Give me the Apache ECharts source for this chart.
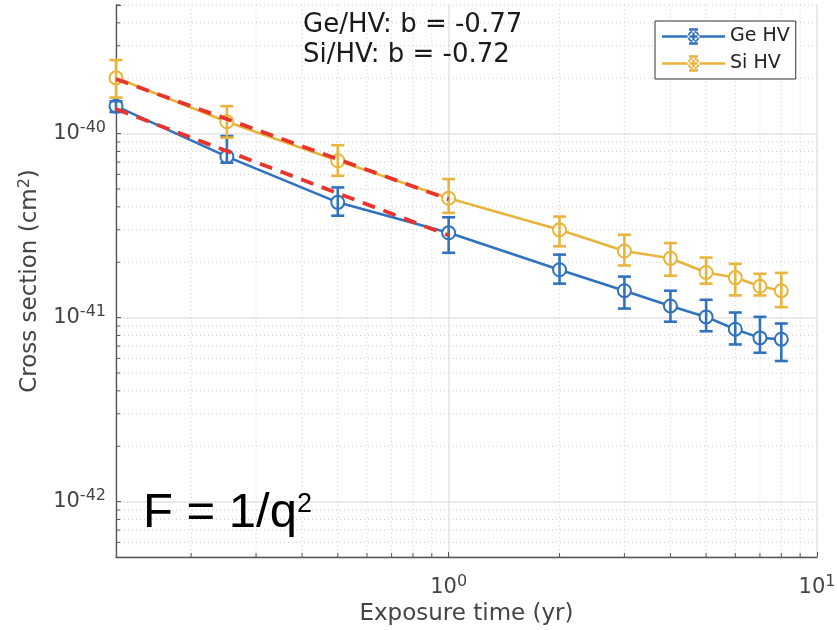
<!DOCTYPE html>
<html><head><meta charset="utf-8">
<script src="https://cdn.jsdelivr.net/npm/echarts@6/dist/echarts.min.js"></script>
<style>html,body{margin:0;padding:0;background:#fff}#c{width:837px;height:630px}</style>
</head><body><div id="c"></div>
<script>
// ---- data (cross sections in cm^2) ----
const exposure = [0.125, 0.25, 0.5, 1, 2, 3, 4, 5, 6, 7, 8];
const geHV     = [1.41e-40, 7.5e-41, 4.23e-41, 2.89e-41, 1.82e-41, 1.40e-41, 1.157e-41, 1.009e-41, 8.65e-42, 7.76e-42, 7.63e-42];
const geLow    = [1.31e-40, 6.95e-41, 3.58e-41, 2.25e-41, 1.53e-41, 1.12e-41, 9.5e-42, 8.43e-42, 7.15e-42, 6.44e-42, 5.81e-42];
const geHigh   = [1.50e-40, 9.7e-41, 5.1e-41, 3.51e-41, 2.2e-41, 1.67e-41, 1.40e-41, 1.25e-41, 1.066e-41, 1.01e-41, 9.29e-42];
const siHV     = [2.01e-40, 1.16e-40, 7.12e-41, 4.45e-41, 3.0e-41, 2.30e-41, 2.10e-41, 1.76e-41, 1.65e-41, 1.48e-41, 1.40e-41];
const siLow    = [1.57e-40, 9.5e-41, 5.9e-41, 3.71e-41, 2.44e-41, 1.92e-41, 1.69e-41, 1.53e-41, 1.32e-41, 1.32e-41, 1.14e-41];
const siHigh   = [2.51e-40, 1.41e-40, 8.65e-41, 5.66e-41, 3.54e-41, 2.82e-41, 2.54e-41, 2.12e-41, 1.96e-41, 1.73e-41, 1.75e-41];
const fitX     = [0.125, 1];
const geFit    = [1.36e-40, 2.8e-41];
const siFit    = [1.98e-40, 4.4e-41];
const yRange   = [5e-43, 5e-40];
const xMinorTicks = [0.2, 0.3, 0.4, 0.5, 0.6, 0.7, 0.8, 0.9, 2, 3, 4, 5, 6, 7, 8, 9];
const yMinorTicks = [6e-43, 7e-43, 8e-43, 9e-43,
  2e-42, 3e-42, 4e-42, 5e-42, 6e-42, 7e-42, 8e-42, 9e-42,
  2e-41, 3e-41, 4e-41, 5e-41, 6e-41, 7e-41, 8e-41, 9e-41,
  2e-40, 3e-40, 4e-40, 5e-40];
const annotGe = 'Ge/HV: b = -0.77';
const annotSi = 'Si/HV: b = -0.72';
const seriesNames = ['Ge HV', 'Si HV'];

// plotting unit (ECharts' log scale loses precision on values ~1e-40)
const UNIT_EXP = -42, UNIT = 1e-42;
const u = v => v / UNIT;

const BLUE = '#3172bf', ORANGE = '#e9b43c', RED = '#e8342c';
const FONT = 'DejaVu Sans';
const LEGEND_ICON = 'path://M0 8.8H63V11.2H0Z M30.3 3H32.7V17H30.3Z M27 1.8H36V4.2H27Z M27 15.8H36V18.2H27Z ' +
  'M25.5 10A6 6 0 1 0 37.5 10A6 6 0 1 0 25.5 10Z M27.5 10A4 4 0 1 1 35.5 10A4 4 0 1 1 27.5 10Z';

const zip2 = (xs, ys) => xs.map((x, i) => [x, u(ys[i])]);
const zip3 = (xs, lo, hi) => xs.map((x, i) => [x, u(lo[i]), u(hi[i])]);

function errRender(color) {
  return function (params, api) {
    const x = api.value(0);
    const pLo = api.coord([x, api.value(1)]);
    const pHi = api.coord([x, api.value(2)]);
    const w = 6.5;
    const st = { stroke: color, lineWidth: 2.6 };
    return { type: 'group', children: [
      { type: 'line', shape: { x1: pLo[0], y1: pLo[1], x2: pHi[0], y2: pHi[1] }, style: st },
      { type: 'line', shape: { x1: pLo[0] - w, y1: pLo[1], x2: pLo[0] + w, y2: pLo[1] }, style: st },
      { type: 'line', shape: { x1: pHi[0] - w, y1: pHi[1], x2: pHi[0] + w, y2: pHi[1] }, style: st }
    ]};
  };
}
function minorXRender(params, api) {
  const cs = params.coordSys;
  const x = api.coord([api.value(0), api.value(1)])[0];
  const b = cs.y + cs.height;
  return { type: 'group', children: [
    { type: 'line', shape: { x1: x, y1: cs.y, x2: x, y2: b }, style: { stroke: '#cfcfcf', lineWidth: 1, lineDash: [1, 3] } },
    { type: 'line', shape: { x1: x, y1: b, x2: x, y2: b - 4 }, style: { stroke: '#555', lineWidth: 1 } }
  ]};
}
function minorYRender(params, api) {
  const cs = params.coordSys;
  const y = api.coord([api.value(0), api.value(1)])[1];
  return { type: 'group', children: [
    { type: 'line', shape: { x1: cs.x, y1: y, x2: cs.x + cs.width, y2: y }, style: { stroke: '#cfcfcf', lineWidth: 1, lineDash: [1, 3] } },
    { type: 'line', shape: { x1: cs.x, y1: y, x2: cs.x + 4, y2: y }, style: { stroke: '#555', lineWidth: 1 } }
  ]};
}
function powLabel(offset) {
  return function (v) {
    const l = Math.log10(v);
    const e = Math.round(l);
    if (Math.abs(l - e) > 1e-6) return '';
    return '{b|10}{s|' + (e + offset) + '}';
  };
}
const labelRich = {
  b: { fontSize: 21, color: '#444', fontFamily: FONT },
  s: { fontSize: 16, color: '#444', fontFamily: FONT, padding: [0, 0, 11, 0] }
};

const chart = echarts.init(document.getElementById('c'), null, { renderer: 'canvas' });
chart.setOption({
  animation: false,
  backgroundColor: '#fff',
  grid: { left: 116, right: 20, top: 5, bottom: 73, containLabel: false, outerBoundsMode: 'none' },
  xAxis: {
    type: 'log', logBase: 10, min: 0.125, max: 10,
    name: 'Exposure time (yr)', nameLocation: 'middle', nameGap: 46,
    nameTextStyle: { fontSize: 23, color: '#444', fontFamily: FONT },
    axisLine: { show: true, lineStyle: { color: '#555', width: 1.3 } },
    axisTick: { show: true, inside: true, length: 5, lineStyle: { color: '#555' } },
    axisLabel: { formatter: powLabel(0), rich: labelRich, fontSize: 21, margin: 17, hideOverlap: false, showMinLabel: true, showMaxLabel: true },
    splitLine: { show: true, lineStyle: { color: '#e3e3e3', width: 1.5 } },
    minorTick: { show: false }, minorSplitLine: { show: false }
  },
  yAxis: {
    type: 'log', logBase: 10, min: u(yRange[0]), max: u(yRange[1]),
    name: '{n|Cross section (cm}{s|2}{n|)}', nameLocation: 'middle', nameGap: 72, nameRotate: 90,
    nameTextStyle: { rich: {
      n: { fontSize: 23, color: '#444', fontFamily: FONT },
      s: { fontSize: 16, color: '#444', fontFamily: FONT, padding: [0, 0, 11, 0] }
    } },
    axisLine: { show: true, lineStyle: { color: '#555', width: 1.3 } },
    axisTick: { show: true, inside: true, length: 5, lineStyle: { color: '#555' } },
    axisLabel: { formatter: powLabel(UNIT_EXP), rich: labelRich, fontSize: 21, margin: 10, hideOverlap: false },
    splitLine: { show: true, showMaxLine: false, lineStyle: { color: '#e3e3e3', width: 1.5 } },
    minorTick: { show: false }, minorSplitLine: { show: false }
  },
  legend: {
    data: seriesNames.map(n => ({ name: n, icon: LEGEND_ICON })),
    orient: 'vertical', left: 655, top: 21,
    backgroundColor: '#fff', borderColor: '#333', borderWidth: 1, borderRadius: 0,
    padding: [6, 6, 6, 7], itemWidth: 63, itemHeight: 18, itemGap: 8,
    itemStyle: { borderWidth: 0 },
    textStyle: { fontSize: 19, color: '#222', fontFamily: FONT }
  },
  graphic: [
    { type: 'text', left: 303, top: 12, z: 10, style: { text: annotGe, fontSize: 26, fill: '#1a1a1a', fontFamily: FONT } },
    { type: 'text', left: 303, top: 42, z: 10, style: { text: annotSi, fontSize: 26, fill: '#1a1a1a', fontFamily: FONT } },
    { type: 'text', left: 143, top: 489, z: 10, style: {
      text: '{a|F = 1/q}{s|2}', fill: '#000',
      rich: { a: { fontSize: 49, fontFamily: 'Liberation Sans', fill: '#000' },
              s: { fontSize: 27, fontFamily: 'Liberation Sans', fill: '#000', padding: [0, 0, 18, 0] } }
    } }
  ],
  series: [
    { type: 'custom', name: 'xminor', renderItem: minorXRender, z: 0, silent: true,
      data: xMinorTicks.map(v => [v, 10]), encode: { x: 0, y: 1 } },
    { type: 'custom', name: 'yminor', renderItem: minorYRender, z: 0, silent: true,
      data: yMinorTicks.map(v => [1, u(v)]), encode: { x: 0, y: 1 } },
    { type: 'line', name: seriesNames[0], data: zip2(exposure, geHV), z: 3,
      symbol: 'emptyCircle', symbolSize: 13, showAllSymbol: true,
      lineStyle: { color: BLUE, width: 2.6 }, itemStyle: { color: BLUE, borderWidth: 2.3 } },
    { type: 'line', name: seriesNames[1], data: zip2(exposure, siHV), z: 3,
      symbol: 'emptyCircle', symbolSize: 13, showAllSymbol: true,
      lineStyle: { color: ORANGE, width: 2.6 }, itemStyle: { color: ORANGE, borderWidth: 2.3 } },
    { type: 'custom', name: 'geErr', renderItem: errRender(BLUE), z: 4,
      data: zip3(exposure, geLow, geHigh), encode: { x: 0, y: [1, 2] } },
    { type: 'custom', name: 'siErr', renderItem: errRender(ORANGE), z: 4,
      data: zip3(exposure, siLow, siHigh), encode: { x: 0, y: [1, 2] } },
    { type: 'line', name: 'geFit', data: zip2(fitX, geFit), z: 5, symbol: 'none',
      lineStyle: { color: RED, width: 3.8, type: [13, 9] } },
    { type: 'line', name: 'siFit', data: zip2(fitX, siFit), z: 5, symbol: 'none',
      lineStyle: { color: RED, width: 3.8, type: [13, 9] } }
  ]
});
</script></body></html>
